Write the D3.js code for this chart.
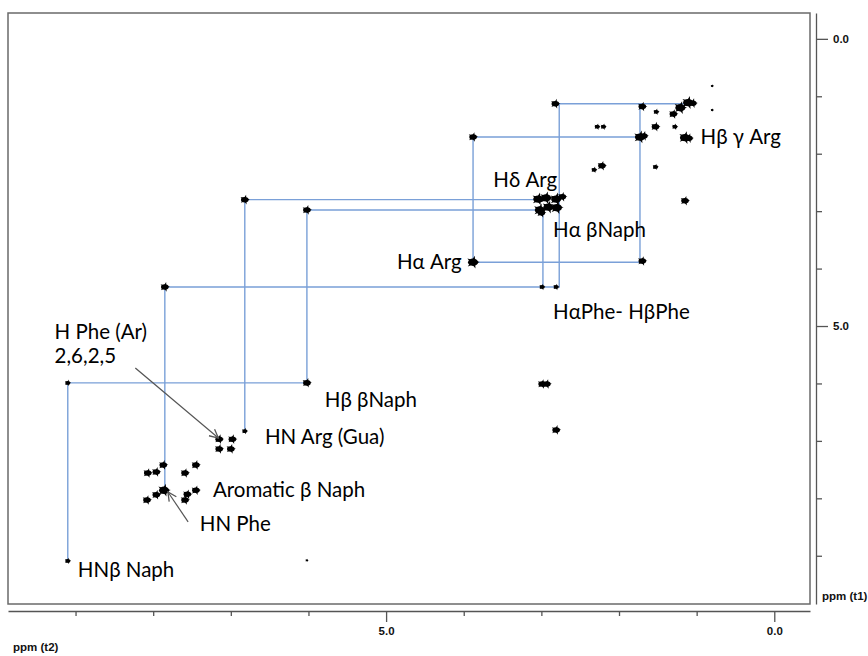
<!DOCTYPE html>
<html>
<head>
  <title>D3</title>
  <meta charset='utf-8'>
  <style>
    body { margin: 0; background: #fff; }
    .lbl { font-family: Lato, "Open Sans", sans-serif; font-size: 20.5px; fill: #000; }
    .ax text { font-family: "Liberation Sans Narrow", "Arial Narrow", "Liberation Sans", sans-serif; font-weight: bold; font-size: 11.5px; fill: #111; }
  </style>
</head>
<body>
  <div id="chart"></div>

  <script src="https://cdnjs.cloudflare.com/ajax/libs/d3/7.8.5/d3.min.js"></script>

  <script type="text/javascript">
    var width = 868,
        height = 656;

    // tick values (ppm) on both axes
    var ticks = [0, 1, 2, 3, 4, 5, 6, 7, 8, 9];
    var tickLabels = {0: "0.0", 5: "5.0"};

    // cross peaks: [f2 ppm, f1 ppm, intensity 0..3]
    var naphPeaks = [
      [9.10, 9.09, 1], [9.10, 5.99, 1], [6.02, 5.99, 2], [6.02, 2.98, 2],
      [6.02, 9.08, 0]
    ];
    var argPeaks = [
      [6.82, 6.83, 1], [6.82, 2.80, 2], [3.88, 3.89, 3], [3.88, 1.71, 2],
      [1.70, 3.87, 2], [1.73, 1.71, 3], [1.68, 1.69, 2], [1.70, 1.18, 2],
      [1.15, 1.72, 3], [1.10, 1.73, 2], [1.15, 2.82, 2]
    ];
    var phePeaks = [
      [7.85, 4.32, 2], [2.99, 4.32, 1], [2.81, 4.32, 1], [2.82, 1.13, 2],
      [7.15, 6.97, 2], [6.98, 6.97, 2], [7.15, 7.14, 2], [7.00, 7.14, 2]
    ];
    var aromPeaks = [
      [8.07, 7.56, 2], [7.96, 7.54, 2], [7.87, 7.42, 2], [7.59, 7.56, 2],
      [7.45, 7.42, 2], [8.08, 8.03, 2], [7.96, 7.94, 2], [7.86, 7.86, 3],
      [7.59, 8.03, 2], [7.56, 7.93, 2], [7.45, 7.86, 2]
    ];
    var aliphPeaks = [
      [3.04, 2.79, 3], [2.94, 2.77, 3], [2.81, 2.79, 3], [2.73, 2.75, 2],
      [3.02, 2.98, 3], [2.91, 2.93, 3], [2.80, 2.94, 3], [3.00, 3.03, 2],
      [1.11, 1.11, 3], [1.21, 1.20, 3], [1.30, 1.31, 2], [1.05, 1.12, 2],
      [2.28, 1.53, 1], [2.20, 1.53, 1], [2.22, 2.21, 2], [2.32, 2.28, 1],
      [1.52, 1.27, 1], [1.53, 1.53, 2], [1.28, 1.53, 1], [1.53, 2.23, 1],
      [0.80, 0.82, 0], [0.80, 1.24, 0],
      [2.99, 6.01, 2], [2.93, 6.01, 2], [2.81, 6.81, 2]
    ];

    // connectivity walks (f2, f1 in ppm)
    var walks = [
      [[9.10, 9.09], [9.10, 5.99], [6.02, 5.99], [6.02, 2.98], [2.98, 2.98], [2.98, 4.32]],
      [[6.82, 6.83], [6.82, 2.80], [3.02, 2.80]],
      [[7.85, 7.86], [7.85, 4.32], [2.77, 4.32], [2.77, 1.13], [1.15, 1.13]],
      [[1.73, 1.13], [1.73, 3.89], [3.88, 3.89], [3.88, 1.71], [1.73, 1.71]]
    ];

    // assignments: text, f2, f1 of label start
    var labels = [
      ["H\u03b2 \u03b3 Arg", 0.95, 1.71],
      ["H\u03b4 Arg", 3.62, 2.46],
      ["H\u03b1 \u03b2Naph", 2.85, 3.33],
      ["H\u03b1 Arg", 4.86, 3.89],
      ["H\u03b1Phe- H\u03b2Phe", 2.85, 4.76],
      ["H Phe (Ar)", 9.27, 5.10],
      ["2,6,2,5", 9.27, 5.52],
      ["H\u03b2 \u03b2Naph", 5.79, 6.29],
      ["HN Arg (Gua)", 6.56, 6.93],
      ["Aromatic \u03b2 Naph", 7.23, 7.86],
      ["HN Phe", 7.40, 8.45],
      ["HN\u03b2 Naph", 8.97, 9.25]
    ];
    // arrows: from [f2, f1] to [f2, f1]
    var arrows = [
      [[8.23, 5.73], [7.16, 6.95]],
      [[7.55, 8.41], [7.81, 7.89]]
    ];

    var x = d3.scaleLinear().domain([9.87, -0.46]).range([8, 810]);
    var y = d3.scaleLinear().domain([-0.45, 9.84]).range([13, 604]);
    var r = d3.scaleLinear().domain([0, 3]).range([1.2, 4.6]);

    var svg = d3.select("#chart")
                .append("svg")
                .attr("width", width)
                .attr("height", height);

    var defs = svg.append("defs");
    defs.append("marker")
        .attr("id", "arr")
        .attr("viewBox", "0 0 10 10")
        .attr("refX", 9).attr("refY", 5)
        .attr("markerWidth", 9).attr("markerHeight", 9)
        .attr("orient", "auto")
        .append("path")
        .attr("d", "M1,1 L9,5 L1,9")
        .attr("fill", "none")
        .attr("stroke", "#555")
        .attr("stroke-width", 1.2);

    // frame
    svg.append("rect")
       .attr("x", x.range()[0]).attr("y", y.range()[0])
       .attr("width", x.range()[1] - x.range()[0])
       .attr("height", y.range()[1] - y.range()[0])
       .attr("fill", "none")
       .attr("stroke", "#6a6a6a")
       .attr("stroke-width", 1.5);

    // walks
    var line = d3.line().x(function(d) { return x(d[0]); }).y(function(d) { return y(d[1]); });
    svg.selectAll(".walk")
       .data(walks)
       .enter()
       .append("path")
       .attr("d", line)
       .attr("fill", "none")
       .attr("stroke", "#7aa0d8")
       .attr("stroke-width", 1.4);

    // peaks
    var allPeaks = naphPeaks.concat(argPeaks, phePeaks, aromPeaks, aliphPeaks);
    var pk = svg.selectAll(".pk")
       .data(allPeaks)
       .enter()
       .append("g")
       .attr("transform", function(d) { return "translate(" + x(d[0]) + "," + y(d[1]) + ")"; });
    pk.append("ellipse")
      .attr("rx", function(d) { return r(d[2]) * 1.1; })
      .attr("ry", function(d) { return r(d[2]) * 0.8; })
      .attr("fill", "#000");
    pk.append("path")
      .attr("d", function(d) { return d3.symbol().type(d3.symbolStar).size(r(d[2]) * r(d[2]) * 2.4)(); })
      .attr("transform", "rotate(15)")
      .attr("fill", "#000");

    // labels
    svg.selectAll(".lbl")
       .data(labels)
       .enter()
       .append("text")
       .attr("class", "lbl")
       .attr("x", function(d) { return x(d[1]); })
       .attr("y", function(d) { return y(d[2]); })
       .attr("dy", "0.35em")
       .text(function(d) { return d[0]; });

    svg.selectAll(".arrow")
       .data(arrows)
       .enter()
       .append("line")
       .attr("x1", function(d) { return x(d[0][0]); })
       .attr("y1", function(d) { return y(d[0][1]); })
       .attr("x2", function(d) { return x(d[1][0]); })
       .attr("y2", function(d) { return y(d[1][1]); })
       .attr("stroke", "#555")
       .attr("stroke-width", 1.2)
       .attr("marker-end", "url(#arr)");

    // right axis (f1)
    var yAxis = d3.axisRight(y)
        .tickValues(ticks)
        .tickSizeOuter(0)
        .tickPadding(5)
        .tickFormat(function(d) { return tickLabels[d] || ""; });
    var gy = svg.append("g")
       .attr("class", "ax")
       .attr("transform", "translate(816,0)")
       .call(yAxis);
    gy.selectAll(".tick line")
      .attr("x2", function(d) { return tickLabels[d] ? 12 : 6; });
    gy.selectAll(".tick text").attr("x", 17);
    gy.selectAll("line, path").attr("stroke", "#555").attr("stroke-width", 1.3);
    gy.append("text")
      .attr("x", 6).attr("y", 596).attr("dy", "0.35em")
      .attr("text-anchor", "start")
      .text("ppm (t1)");

    // bottom axis (f2)
    var xAxis = d3.axisBottom(x)
        .tickValues(ticks)
        .tickSizeOuter(0)
        .tickFormat(function(d) { return tickLabels[d] || ""; });
    var gx = svg.append("g")
       .attr("class", "ax")
       .attr("transform", "translate(0,611)")
       .call(xAxis);
    gx.selectAll(".tick line")
      .attr("y2", function(d) { return tickLabels[d] ? 11 : 5; });
    gx.selectAll(".tick text").attr("y", 16);
    gx.selectAll("line, path").attr("stroke", "#555").attr("stroke-width", 1.3);
    gx.append("text")
      .attr("x", 13).attr("y", 36).attr("dy", "0.35em")
      .attr("text-anchor", "start")
      .text("ppm (t2)");
  </script>
</body>
</html>
